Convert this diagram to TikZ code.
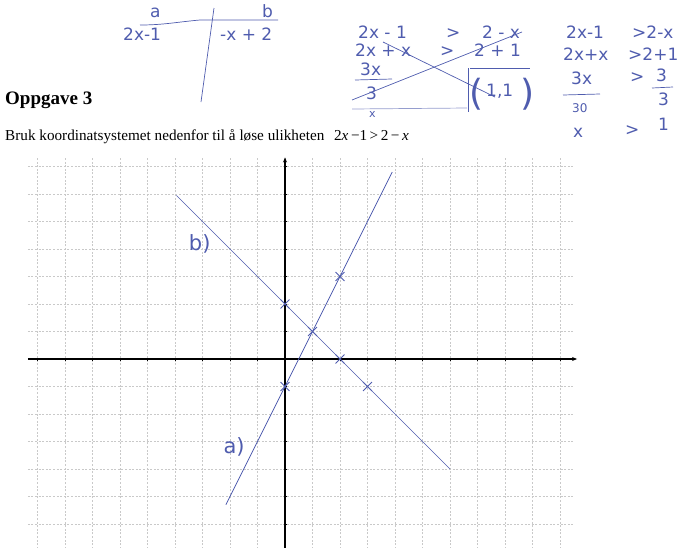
\documentclass[tikz,border=0pt]{standalone}
\usepackage{fontspec}
\setmainfont{Liberation Serif}
\newfontfamily\handfont{DejaVu Sans}
\definecolor{penblue}{HTML}{4F5CAE}
\definecolor{gridgray}{HTML}{C9C9C9}
\usepackage{tikz}
\usetikzlibrary{arrows.meta, positioning, shapes.misc}

\begin{document}
\begin{tikzpicture}[
    x=1pt, y=-1pt,
    hand/.style={font=\handfont\fontsize{17}{17}\selectfont, text=penblue, inner sep=0pt, anchor=base west},
    pen/.style={draw=penblue, line width=0.7pt},
    rute/.style={draw=gridgray, line width=0.45pt, dash pattern=on 2pt off 1.6pt},
    akse/.style={-{Stealth[length=5pt, width=4pt]}, line width=1.1pt, black},
    kryss/.style={cross out, draw=penblue, line width=0.9pt, minimum size=8pt, inner sep=0pt},
]
    \useasboundingbox (0,0) rectangle (691,547);

    % oppgavetekst
    \node[anchor=base west, inner sep=0pt, font=\bfseries\fontsize{19}{19}\selectfont] (tittel) at (5,104) {Oppgave 3};
    \node[anchor=base west, inner sep=0pt, font=\fontsize{15.2}{17}\selectfont] (tekst) at (5,140)
        {Bruk koordinatsystemet nedenfor til å løse ulikheten\hspace{6pt} 2\textit{x}\,−1\,>\,2\,−\,\textit{x}};

    % tabell a | b
    \node[hand] (ta) at (150,17) {a};
    \node[hand] (tb) at (262,17) {b};
    \node[hand] (ta2) at (123,40) {2x-1};
    \node[hand] (tb2) at (220,40) {-x + 2};
    \draw[pen] (140,25) to[out=0, in=185] (200,20) -- (278,20);
    \draw[pen] (214,8) -- (201,102);

    % utregning midten
    \node[hand] (m1v) at (358,38) {2x - 1};
    \node[hand] (m1s) at (446,38) {>};
    \node[hand] (m1h) at (482,38) {2 - x};
    \node[hand] (m2v) at (355,56) {2x + x};
    \node[hand] (m2s) at (440,56) {>};
    \node[hand] (m2h) at (474,56) {2 + 1};
    \node[hand] (m3) at (360,75) {3x};
    \draw[pen] (355,80) -- (392,79);
    \node[hand] (m4) at (366,99) {3};
    \node[hand, font=\handfont\fontsize{11}{11}\selectfont] (m5) at (369,117) {x};
    \draw[pen] (383,42) -- (495,97);
    \draw[pen] (352,100) -- (522,32);
    \draw[pen, penblue!60] (352,109) -- (467,108);
    % svar (1,1)
    \draw[pen] (470,68) -- (530,68);
    \draw[pen] (468,68) -- (468,112);
    \node[hand, font=\handfont\fontsize{36}{36}\selectfont] (pv) at (469,105) {(};
    \node[hand] (pm) at (486,96) {1,1};
    \node[hand, font=\handfont\fontsize{36}{36}\selectfont] (ph) at (520,105) {)};

    % utregning høyre
    \node[hand] (h1v) at (566,38) {2x-1};
    \node[hand] (h1h) at (632,38) {>2-x};
    \node[hand] (h2v) at (563,60) {2x+x};
    \node[hand] (h2h) at (628,60) {>2+1};
    \node[hand] (h3v) at (571,84) {3x};
    \node[hand] (h3s) at (630,82) {>};
    \node[hand] (h3h) at (656,81) {3};
    \draw[pen] (652,88) -- (673,87);
    \node[hand] (h4h) at (658,105) {3};
    \draw[pen] (563,95) -- (600,94);
    \node[hand, font=\handfont\fontsize{12}{12}\selectfont] (h4v) at (572,112) {30};
    \node[hand] (h5v) at (573,137) {x};
    \node[hand] (h5s) at (625,135) {>};
    \node[hand] (h5h) at (658,130) {1};

    % koordinatsystem
    \begin{scope}[shift={(285pt,-359pt)}, x=27.5pt, y=27.5pt]
        \foreach \i in {-9,...,10}
            \draw[rute] (\i,-6.9) -- (\i,7.3);
        \foreach \j in {-6,...,7}
            \draw[rute] (-9.35,\j) -- (10.5,\j);
        \draw[akse] (-9.35,0) -- (10.62,0);
        \draw[akse] (0,-6.95) -- (0,7.33);
        \foreach \i in {-9,...,10}
            \draw[line width=0.8pt] (\i,-0.08) -- (\i,0.04);
        \foreach \j in {-6,...,7}
            \draw[line width=0.8pt] (-0.05,\j) -- (0.08,\j);

        % linjene a) og b)
        \coordinate (a0) at (-2.15,-5.3);
        \coordinate (a1) at (3.9,6.8);
        \coordinate (b0) at (-3.95,5.95);
        \coordinate (b1) at (6,-4);
        \draw[pen] (a0) -- (a1);
        \draw[pen] (b0) -- (b1);
        \foreach \x/\y in {0/2, 1/1, 2/3, 2/0, 0/-1, 3/-1}
            \node[kryss] (k\x\y) at (\x,\y) {};
        \node[hand, anchor=center, font=\handfont\fontsize{21}{21}\selectfont] (lb) at (-3.1,4.2) {b)};
        \node[hand, anchor=center, font=\handfont\fontsize{21}{21}\selectfont] (la) at (-1.85,-3.2) {a)};
    \end{scope}
\end{tikzpicture}
\end{document}
